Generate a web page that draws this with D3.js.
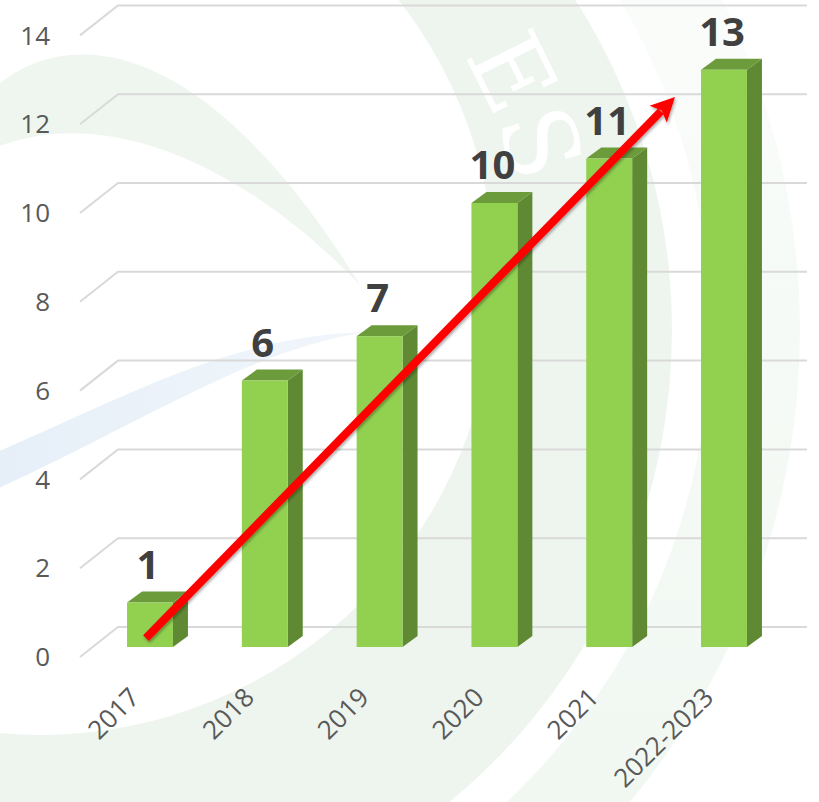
<!DOCTYPE html>
<html>
<head>
<meta charset="utf-8"/>
<style>
  body { margin: 0; background: #fff; }
  svg { display: block; }
  .tick-label { font-family: "Open Sans", sans-serif; font-size: 26px; fill: #595959; }
  .cat-label { font-family: "Open Sans", sans-serif; font-size: 26px; fill: #595959; }
  .val-label { font-family: "Open Sans", sans-serif; font-size: 40px; font-weight: bold; fill: #404040; }
</style>
</head>
<body>
<svg id="chart" width="819" height="802"></svg>
<script src="https://d3js.org/d3.v7.min.js"></script>
<script>
// data
const categories = ["2017", "2018", "2019", "2020", "2021", "2022-2023"];
const values = [1, 6, 7, 10, 11, 13];
const yTicks = [0, 2, 4, 6, 8, 10, 12, 14];
// trend arrow, in (category index, value)
const arrowFrom = [-0.035, 0.2];
const arrowTo = [4.573, 12.39];

const width = 819, height = 802;
const svg = d3.select("#chart");
const defs = svg.append("defs");

// scales: bars' front plane
const x = d3.scaleBand()
  .domain(categories)
  .range([92.6, 781.4])
  .paddingInner(0.6)
  .paddingOuter(0.3);
const y = d3.scaleLinear().domain([0, 14]).range([647, 25.4]);
const xi = d3.scaleLinear().domain([0, categories.length - 1])
  .range([x(categories[0]) + x.bandwidth() / 2, x(categories[categories.length - 1]) + x.bandwidth() / 2]);

// 3d offsets
const depthX = 15, depthY = -11;   // bar depth
const wallDy = -20, floorDy = 10;  // back wall / front edge relative to bar plane
const wallLeft = 118, frontLeft = 80, wallRight = 807;

// --- faint watermark in the background ---
const g1 = defs.append("linearGradient").attr("id", "fadeUp")
  .attr("x1", 0).attr("y1", 1).attr("x2", 0).attr("y2", 0);
g1.append("stop").attr("offset", "0%").attr("stop-color", "#eef6ef").attr("stop-opacity", 1);
g1.append("stop").attr("offset", "55%").attr("stop-color", "#eef6ef").attr("stop-opacity", 0.5);
g1.append("stop").attr("offset", "100%").attr("stop-color", "#eef6ef").attr("stop-opacity", 0);
const g2 = defs.append("linearGradient").attr("id", "blueFade")
  .attr("x1", 0).attr("y1", 0).attr("x2", 1).attr("y2", 0);
g2.append("stop").attr("offset", "0%").attr("stop-color", "#e6eff8");
g2.append("stop").attr("offset", "100%").attr("stop-color", "#f1f6fb");

const bg = svg.append("g");
bg.append("path")
  .attr("d", "M40,280 m-455,0 a455,455 0 1,0 910,0 a455,455 0 1,0 -910,0 Z M60,330 m-612,0 a612,612 0 1,1 1224,0 a612,612 0 1,1 -1224,0 Z")
  .attr("fill-rule", "evenodd")
  .attr("fill", "#eef5ef");
bg.append("path")
  .attr("d", "M60,330 m-650,0 a650,650 0 1,1 1300,0 a650,650 0 1,1 -1300,0 Z M60,330 m-740,0 a740,740 0 1,1 1480,0 a740,740 0 1,1 -1480,0 Z")
  .attr("fill-rule", "evenodd")
  .attr("fill", "url(#fadeUp)");
bg.append("path")
  .attr("d", "M-10,92 C60,25 200,25 360,285 C230,150 90,105 -10,150 Z")
  .attr("fill", "#eff6f0");
bg.append("path")
  .attr("d", "M-10,455 C120,400 230,335 368,332 C250,348 130,430 -10,492 Z")
  .attr("fill", "url(#blueFade)");
bg.append("path")
  .attr("id", "wmArc")
  .attr("d", "M50,300 m-480,0 a480,480 0 0,1 960,0")
  .attr("fill", "none");
bg.append("text")
  .attr("font-family", "DejaVu Serif, serif")
  .attr("font-size", 100)
  .attr("fill", "#ffffff")
  .append("textPath")
  .attr("href", "#wmArc")
  .attr("startOffset", "83%")
  .text("ES");

// --- gridlines (floor edge + back wall) ---
const grid = svg.append("g")
  .attr("stroke", "#d9d9d9")
  .attr("stroke-width", 2)
  .attr("fill", "none");
grid.selectAll("path")
  .data(yTicks)
  .join("path")
  .attr("d", d => `M${frontLeft},${y(d) + floorDy}L${wallLeft},${y(d) + wallDy}L${wallRight},${y(d) + wallDy}`);

// tick labels
svg.append("g").selectAll("text")
  .data(yTicks)
  .join("text")
  .attr("class", "tick-label")
  .attr("x", 50)
  .attr("y", d => y(d) + floorDy)
  .attr("dy", "0.35em")
  .attr("text-anchor", "end")
  .text(d => d);

// category labels
svg.append("g").selectAll("text")
  .data(categories)
  .join("text")
  .attr("class", "cat-label")
  .attr("text-anchor", "end")
  .attr("transform", d => `translate(${x(d) + x.bandwidth() / 2 - 9},${y(0) + 52}) rotate(-45)`)
  .text(d => d);

// --- bars ---
const bars = svg.append("g").selectAll("g")
  .data(categories.map((c, i) => ({ c, v: values[i] })))
  .join("g");

bars.append("path") // side
  .attr("fill", "#5f8a33")
  .attr("d", d => {
    const x1 = x(d.c) + x.bandwidth();
    return `M${x1},${y(0)}L${x1 + depthX},${y(0) + depthY}L${x1 + depthX},${y(d.v) + depthY}L${x1},${y(d.v)}Z`;
  });
bars.append("path") // top
  .attr("fill", "#6b9b3b")
  .attr("d", d => {
    const x0 = x(d.c), x1 = x0 + x.bandwidth();
    return `M${x0},${y(d.v)}L${x0 + depthX},${y(d.v) + depthY}L${x1 + depthX},${y(d.v) + depthY}L${x1},${y(d.v)}Z`;
  });
bars.append("rect") // front
  .attr("fill", "#92d050")
  .attr("x", d => x(d.c))
  .attr("y", d => y(d.v))
  .attr("width", x.bandwidth())
  .attr("height", d => y(0) - y(d.v));

// value labels
bars.append("text")
  .attr("class", "val-label")
  .attr("text-anchor", "middle")
  .attr("x", d => x(d.c) + x.bandwidth() / 2 - 2)
  .attr("y", d => y(d.v) - 24)
  .text(d => d.v);

// --- red trend arrow ---
const f = defs.append("filter").attr("id", "shadow")
  .attr("x", "-10%").attr("y", "-10%").attr("width", "120%").attr("height", "120%");
f.append("feDropShadow").attr("dx", 1).attr("dy", 2).attr("stdDeviation", 1.5)
  .attr("flood-color", "#000").attr("flood-opacity", 0.35);

const p0 = [xi(arrowFrom[0]), y(arrowFrom[1])];
const p1 = [xi(arrowTo[0]), y(arrowTo[1])];
const ang = Math.atan2(p1[1] - p0[1], p1[0] - p0[0]);
const headLen = 24, headHalf = 12;
const ux = Math.cos(ang), uy = Math.sin(ang);
const bx = p1[0] - ux * headLen, by = p1[1] - uy * headLen;

const arrow = svg.append("g").attr("filter", "url(#shadow)");
arrow.append("line")
  .attr("x1", p0[0]).attr("y1", p0[1])
  .attr("x2", bx + ux * 4).attr("y2", by + uy * 4)
  .attr("stroke", "#ff0000")
  .attr("stroke-width", 8);
arrow.append("path")
  .attr("fill", "#ff0000")
  .attr("d", `M${p1[0]},${p1[1]}L${bx - uy * headHalf},${by + ux * headHalf}L${bx + ux * 5},${by + uy * 5}L${bx + uy * headHalf},${by - ux * headHalf}Z`);
</script>
</body>
</html>
